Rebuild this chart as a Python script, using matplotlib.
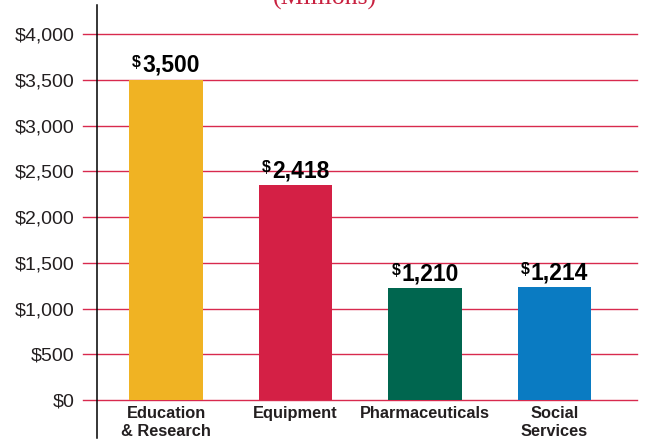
import matplotlib
matplotlib.use('Agg')
import matplotlib.pyplot as plt

plt.rcParams['font.family'] = ['Liberation Sans', 'DejaVu Sans']

# data
categories = ['Education\n& Research', 'Equipment', 'Pharmaceuticals', 'Social\nServices']
bar_tops = [3505, 2350, 1220, 1232]          # bar heights as drawn
value_labels = ['3,500', '2,418', '1,210', '1,214']
y_ticks = [0, 500, 1000, 1500, 2000, 2500, 3000, 3500, 4000]
y_tick_labels = ['$0', '$500', '$1,000', '$1,500', '$2,000', '$2,500', '$3,000', '$3,500', '$4,000']

colors = ['#F0B323', '#D42045', '#00664F', '#0A7BC2']
grid_red = '#D82A4E'
ink = '#231F20'

W, H = 645, 444
fig = plt.figure(figsize=(W / 100, H / 100), dpi=100)
ax = fig.add_axes([97 / W, 6 / H, 540 / W, 433 / H])

xs = range(len(categories))
ax.bar(xs, bar_tops, width=0.565, color=colors, zorder=3)

ax.set_xlim(-0.533, 3.637)
ax.set_ylim(-415, 4320)

# red grid lines, poking out left of the axis
for t in y_ticks:
    ax.axhline(t, xmin=-0.026, xmax=1, color=grid_red, lw=1, zorder=1, clip_on=False)

for s in ['top', 'right', 'bottom']:
    ax.spines[s].set_visible(False)
ax.spines['left'].set_color('black')
ax.spines['left'].set_linewidth(1.1)
ax.spines['left'].set_zorder(4)

ax.set_xticks([])
ax.set_yticks(y_ticks)
ax.set_yticklabels(y_tick_labels, fontsize=14, color=ink)
ax.tick_params(axis='y', length=0, pad=16)

# category names under the zero line
for x, name in zip(xs, categories):
    ax.annotate(name, xy=(x, 0), xytext=(0, -6), textcoords='offset pixels',
                ha='center', va='top', fontsize=11.8, fontweight='bold',
                color=ink, linespacing=1.25)

# value labels with small superscript dollar sign
fig.canvas.draw()
renderer = fig.canvas.get_renderer()
for x, top, txt in zip(xs, bar_tops, value_labels):
    num = ax.annotate(txt, xy=(x, top), xytext=(0, 8), textcoords='offset pixels',
                      ha='left', va='baseline', fontsize=16.5, fontweight='bold', color='black')
    dol = ax.annotate('$', xy=(x, top), xytext=(0, 13), textcoords='offset pixels',
                      ha='left', va='baseline', fontsize=11.5, fontweight='bold', color='black')
    wn = num.get_window_extent(renderer).width
    wd = dol.get_window_extent(renderer).width + 1
    left = -(wn + wd) / 2
    dol.xyann = (left, 13)
    num.xyann = (left + wd, 8)

# clipped subtitle at the very top
fig.text(325 / W, 1 - 5 / H, '(Millions)', ha='center', va='baseline',
         fontsize=18.5, color='#C8203F', family=['Liberation Serif', 'DejaVu Serif'])

fig.savefig('out.png', dpi=100)
